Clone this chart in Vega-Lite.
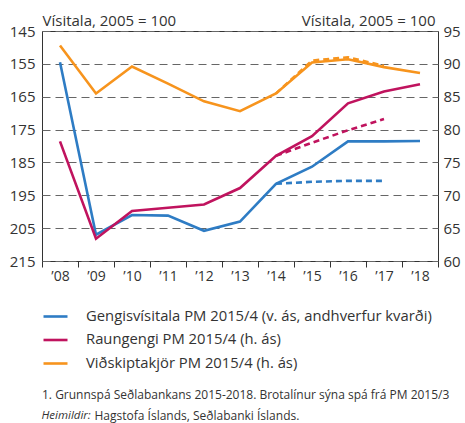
{
  "$schema": "https://vega.github.io/schema/vega-lite/v6.json",
  "width": 396,
  "height": 230,
  "autosize": "none",
  "padding": {"left": 42, "top": 31, "right": 27, "bottom": 162},
  "config": {
    "font": "Open Sans",
    "view": {"stroke": "#333333", "strokeWidth": 1},
    "axis": {"labelColor": "#333333", "titleColor": "#333333", "titleFontWeight": "normal"},
    "legend": {"padding": 0}
  },
  "data": {
    "values": [
      {"year": "’08", "id": "G", "part": "actual", "value": 154.5},
      {"year": "’09", "id": "G", "part": "actual", "value": 207.0},
      {"year": "’10", "id": "G", "part": "actual", "value": 201.0},
      {"year": "’11", "id": "G", "part": "actual", "value": 201.2},
      {"year": "’12", "id": "G", "part": "actual", "value": 205.8},
      {"year": "’13", "id": "G", "part": "actual", "value": 203.0},
      {"year": "’14", "id": "G", "part": "actual", "value": 191.5},
      {"year": "’15", "id": "G", "part": "actual", "value": 186.3},
      {"year": "’16", "id": "G", "part": "actual", "value": 178.6},
      {"year": "’17", "id": "G", "part": "actual", "value": 178.6},
      {"year": "’18", "id": "G", "part": "actual", "value": 178.5},
      {"year": "’14", "id": "G", "part": "forecast", "value": 191.5},
      {"year": "’15", "id": "G", "part": "forecast", "value": 190.9},
      {"year": "’16", "id": "G", "part": "forecast", "value": 190.6},
      {"year": "’17", "id": "G", "part": "forecast", "value": 190.6},
      {"year": "’08", "id": "R", "part": "actual", "value": 78.2},
      {"year": "’09", "id": "R", "part": "actual", "value": 63.4},
      {"year": "’10", "id": "R", "part": "actual", "value": 67.6},
      {"year": "’11", "id": "R", "part": "actual", "value": 68.1},
      {"year": "’12", "id": "R", "part": "actual", "value": 68.6},
      {"year": "’13", "id": "R", "part": "actual", "value": 71.1},
      {"year": "’14", "id": "R", "part": "actual", "value": 76.0},
      {"year": "’15", "id": "R", "part": "actual", "value": 79.0},
      {"year": "’16", "id": "R", "part": "actual", "value": 84.0},
      {"year": "’17", "id": "R", "part": "actual", "value": 85.8},
      {"year": "’18", "id": "R", "part": "actual", "value": 86.9},
      {"year": "’14", "id": "R", "part": "forecast", "value": 76.0},
      {"year": "’15", "id": "R", "part": "forecast", "value": 78.0},
      {"year": "’16", "id": "R", "part": "forecast", "value": 79.9},
      {"year": "’17", "id": "R", "part": "forecast", "value": 81.6},
      {"year": "’08", "id": "V", "part": "actual", "value": 92.8},
      {"year": "’09", "id": "V", "part": "actual", "value": 85.5},
      {"year": "’10", "id": "V", "part": "actual", "value": 89.6},
      {"year": "’11", "id": "V", "part": "actual", "value": 87.0},
      {"year": "’12", "id": "V", "part": "actual", "value": 84.3},
      {"year": "’13", "id": "V", "part": "actual", "value": 82.8},
      {"year": "’14", "id": "V", "part": "actual", "value": 85.5},
      {"year": "’15", "id": "V", "part": "actual", "value": 90.2},
      {"year": "’16", "id": "V", "part": "actual", "value": 90.7},
      {"year": "’17", "id": "V", "part": "actual", "value": 89.5},
      {"year": "’18", "id": "V", "part": "actual", "value": 88.6},
      {"year": "’14", "id": "V", "part": "forecast", "value": 85.5},
      {"year": "’15", "id": "V", "part": "forecast", "value": 90.5},
      {"year": "’16", "id": "V", "part": "forecast", "value": 91.0},
      {"year": "’17", "id": "V", "part": "forecast", "value": 89.7}
    ]
  },
  "layer": [
    {
      "encoding": {
        "x": {
          "field": "year", "type": "ordinal",
          "scale": {"type": "band", "domain": ["’08","’09","’10","’11","’12","’13","’14","’15","’16","’17","’18"], "paddingInner": 0, "paddingOuter": 0},
          "axis": {
            "orient": "bottom",
            "title": "Heimildir:", "titleFontStyle": "italic", "titleFontSize": 11.5,
            "titleX": -1, "titleY": 154, "titleAlign": "left", "titleBaseline": "middle",
            "tickBand": "extent", "tickSize": 6, "tickColor": "#333333",
            "labelFontSize": 14, "labelPadding": 2, "labelAngle": 0,
            "domain": false, "grid": false
          }
        },
        "y": {
          "field": "value", "type": "quantitative",
          "scale": {"domain": [145, 215], "reverse": true, "zero": false, "nice": false},
          "axis": {
            "values": [145, 155, 165, 175, 185, 195, 205, 215],
            "title": "Vísitala, 2005 = 100", "titleAngle": 0, "titleX": 0, "titleY": -6,
            "titleAlign": "left", "titleBaseline": "alphabetic", "titleFontSize": 15,
            "labelFontSize": 15, "labelPadding": 7, "ticks": false, "domain": false,
            "grid": true, "gridColor": "#666666", "gridDash": [8, 5], "gridWidth": 1.2
          }
        }
      },
      "layer": [
        {
          "transform": [{"filter": "datum.id == 'G' && datum.part == 'actual'"}],
          "mark": {"type": "line", "strokeWidth": 2.6},
          "encoding": {
            "color": {
              "field": "id", "type": "nominal",
              "scale": {"domain": ["G", "R", "V"], "range": ["#2e7cc4", "#c0135e", "#f7941d"]},
              "legend": {
                "orient": "none", "legendX": 0, "legendY": 272, "direction": "vertical",
                "symbolType": "stroke", "symbolSize": 576, "symbolStrokeWidth": 2.6,
                "labelExpr": "datum.label == 'G' ? 'Gengisvísitala PM 2015/4 (v. ás, andhverfur kvarði)' : datum.label == 'R' ? 'Raungengi PM 2015/4 (h. ás)' : 'Viðskiptakjör PM 2015/4 (h. ás)'",
                "labelFontSize": 14.8, "labelColor": "#333333", "labelOffset": 17, "labelLimit": 500,
                "rowPadding": 2.5,
                "title": "1. Grunnspá Seðlabankans 2015-2018. Brotalínur sýna spá frá PM 2015/3",
                "titleOrient": "bottom", "titleFontSize": 12, "titleFontWeight": "normal",
                "titleColor": "#333333", "titleLimit": 600, "titlePadding": 20, "titleAnchor": "start", "titleAlign": "left"
              }
            }
          }
        },
        {
          "transform": [{"filter": "datum.id == 'G' && datum.part == 'forecast'"}],
          "mark": {"type": "line", "strokeWidth": 2.6, "strokeDash": [6, 4], "color": "#2e7cc4"}
        }
      ]
    },
    {
      "encoding": {
        "x": {
          "field": "year", "type": "ordinal",
          "axis": {
            "orient": "bottom",
            "title": "Hagstofa Íslands, Seðlabanki Íslands.", "titleFontSize": 12,
            "titleX": 52, "titleY": 154, "titleAlign": "left", "titleBaseline": "middle",
            "labels": false, "ticks": false, "domain": false, "grid": false
          }
        },
        "y": {
          "field": "value", "type": "quantitative",
          "scale": {"domain": [60, 95], "zero": false, "nice": false},
          "axis": {
            "orient": "right",
            "values": [60, 65, 70, 75, 80, 85, 90, 95],
            "title": "Vísitala, 2005 = 100", "titleAngle": 0, "titleX": -3, "titleY": -6,
            "titleAlign": "right", "titleBaseline": "alphabetic", "titleFontSize": 15,
            "labelFontSize": 15, "labelPadding": 5, "ticks": false, "domain": false, "grid": false
          }
        }
      },
      "layer": [
        {
          "transform": [{"filter": "datum.id != 'G' && datum.part == 'actual'"}],
          "mark": {"type": "line", "strokeWidth": 2.6},
          "encoding": {
            "color": {
              "field": "id", "type": "nominal",
              "scale": {"domain": ["G", "R", "V"], "range": ["#2e7cc4", "#c0135e", "#f7941d"]}
            }
          }
        },
        {
          "transform": [{"filter": "datum.id == 'R' && datum.part == 'forecast'"}],
          "mark": {"type": "line", "strokeWidth": 2.6, "strokeDash": [6, 4], "color": "#c0135e"}
        },
        {
          "transform": [{"filter": "datum.id == 'V' && datum.part == 'forecast'"}],
          "mark": {"type": "line", "strokeWidth": 2.6, "strokeDash": [6, 4], "color": "#f7941d"}
        }
      ]
    }
  ],
  "resolve": {"scale": {"y": "independent"}, "axis": {"x": "independent"}}
}
